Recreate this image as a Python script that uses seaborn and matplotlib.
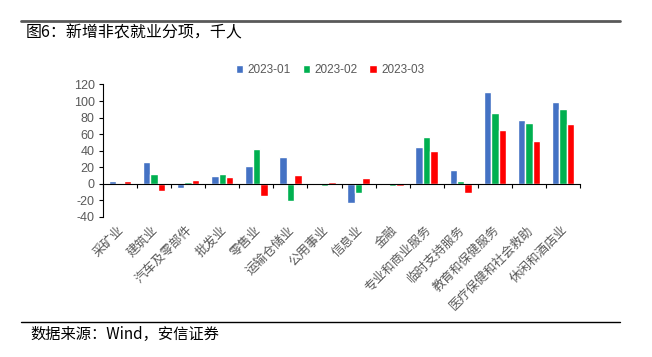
import matplotlib
matplotlib.use('Agg')
import matplotlib.pyplot as plt
import matplotlib.transforms as mtransforms
from matplotlib.lines import Line2D
import numpy as np
import pandas as pd
import seaborn as sns

categories = ['采矿业', '建筑业', '汽车及零部件', '批发业', '零售业', '运输仓储业', '公用事业',
              '信息业', '金融', '专业和商业服务', '临时支持服务', '教育和保健服务',
              '医疗保健和社会救助', '休闲和酒店业']
series_names = ['2023-01', '2023-02', '2023-03']
jan = [3, 26, -5, 10, 22, 32, -1, -23, -1, 45, 17, 111, 77, 99]
feb = [0, 12, 2, 12, 42, -21, -2, -11, -2, 56, 3, 85, 74, 91]
mar = [3, -9, 5, 8, -15, 11, 2, 7, -2, 40, -11, 65, 52, 72]
y_ticks = [-40, -20, 0, 20, 40, 60, 80, 100, 120]
colors = {'2023-01': '#4472C4', '2023-02': '#00B050', '2023-03': '#FF0000'}
title = '图6：新增非农就业分项，千人'
source = '数据来源：Wind，安信证券'

sns.set_style('white')
plt.rcParams['font.family'] = ['Liberation Sans', 'Noto Sans CJK SC', 'DejaVu Sans']
cjk = ['Noto Sans CJK SC', 'DejaVu Sans']

df = pd.DataFrame({
    '行业': categories * 3,
    '月份': [s for s in series_names for _ in categories],
    '值': jan + feb + mar,
})

fig = plt.figure(figsize=(6.52, 3.57), dpi=100)
W, H = 652, 357
ax = fig.add_axes([103 / W, 1 - 217 / H, 477 / W, (217 - 84.5) / H])

sns.barplot(data=df, x='行业', y='值', hue='月份', order=categories, hue_order=series_names,
            palette=colors, width=0.66, gap=0, saturation=1, errorbar=None, ax=ax)

ax.set_xlim(-0.5, len(categories) - 0.5)
ax.set_ylim(y_ticks[0], y_ticks[-1])
ax.set_yticks(y_ticks)
ax.set_yticklabels([str(v) for v in y_ticks], fontsize=9, color='#595959')
ax.set_xlabel('')
ax.set_ylabel('')

for s in ['top', 'right']:
    ax.spines[s].set_visible(False)
ax.spines['left'].set_color('black')
ax.spines['left'].set_linewidth(0.8)
ax.spines['bottom'].set_position(('data', 0))
ax.spines['bottom'].set_color('black')
ax.spines['bottom'].set_linewidth(0.8)
ax.spines['bottom'].set_zorder(5)

ax.tick_params(axis='y', which='major', direction='out', length=3, width=0.8, color='black',
               left=True, pad=3)
ax.set_xticks(np.arange(len(categories)))
ax.set_xticks(np.arange(len(categories) + 1) - 0.5, minor=True)
ax.tick_params(axis='x', which='major', length=0, labelbottom=False)
ax.tick_params(axis='x', which='minor', direction='out', length=3, width=0.8, color='black',
               bottom=True)

base = mtransforms.blended_transform_factory(ax.transData, ax.transAxes)
lab_tr = mtransforms.offset_copy(base, fig=fig, x=2 / 100, y=-11 / 100, units='inches')
for i, c in enumerate(categories):
    ax.text(i, 0, c, transform=lab_tr, rotation=45, ha='right', va='center',
            rotation_mode='anchor', fontsize=9, color='#595959', family=cjk)

leg = ax.legend(loc='center', bbox_to_anchor=(330 / W, 1 - 70 / H), bbox_transform=fig.transFigure,
                ncol=3, frameon=False, handlelength=0.65, handleheight=0.65, handletextpad=0.35,
                columnspacing=1.0, fontsize=8.5, borderpad=0)
for t in leg.get_texts():
    t.set_color('#595959')

fig.add_artist(Line2D([21 / W, 620 / W], [1 - 20.7 / H] * 2, color='#595959', lw=2,
                      transform=fig.transFigure))
fig.add_artist(Line2D([21 / W, 620 / W], [1 - 322 / H] * 2, color='black', lw=1,
                      transform=fig.transFigure))
fig.text(26 / W, 1 - 33 / H, title, fontsize=11.5, va='center', ha='left', color='black', family=cjk)
fig.text(30 / W, 1 - 334.5 / H, source, fontsize=11, va='center', ha='left', color='black', family=cjk)

fig.savefig('out.png', dpi=100)
